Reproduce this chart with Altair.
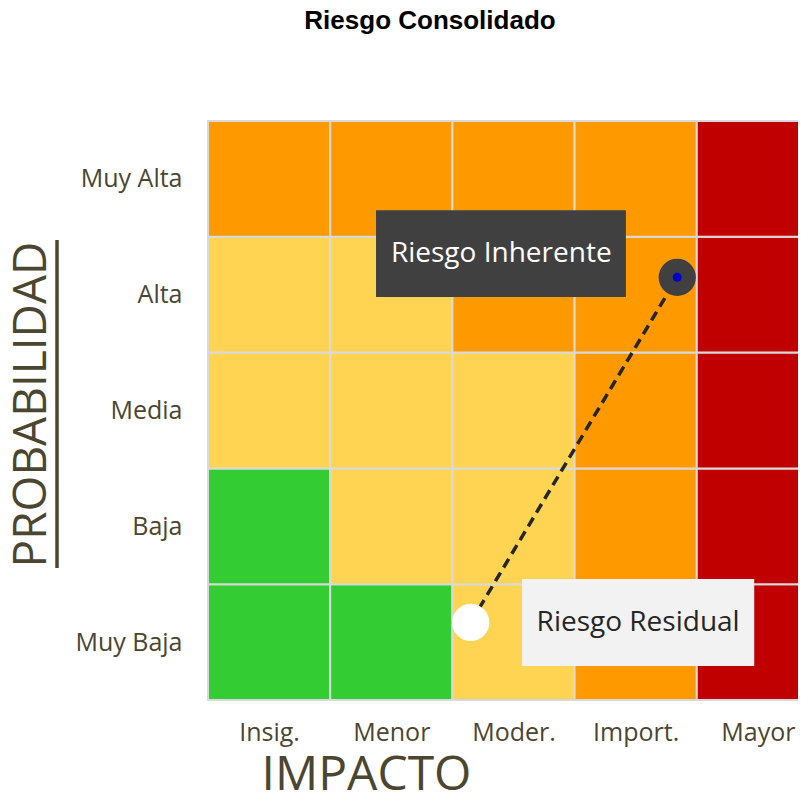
import altair as alt
import pandas as pd

# ---------------- data ----------------
impact_labels = ["Insig.", "Menor", "Moder.", "Import.", "Mayor"]
prob_labels = ["Muy Baja", "Baja", "Media", "Alta", "Muy Alta"]
# risk level of each cell; rows from "Muy Baja" (bottom) to "Muy Alta" (top)
risk_rows = [
    [1, 1, 2, 3, 4],
    [1, 2, 2, 3, 4],
    [2, 2, 2, 3, 4],
    [2, 2, 3, 3, 4],
    [3, 3, 3, 3, 4],
]
level_codes = [1, 2, 3, 4]
level_colors = ["#33CC33", "#FFD452", "#FF9900", "#C00000"]

point_names = ["Riesgo Inherente", "Riesgo Residual"]
point_impact = [3.84, 2.15]
point_prob = [3.65, 0.67]

# data-label boxes (in impact / probability units)
label_x = [2.40, 3.52]
label_y = [3.85, 0.665]
label_box_x = [1.375, 2.57]
label_box_x2 = [3.42, 4.47]
label_box_y = [3.48, 0.294]
label_box_y2 = [4.23, 1.045]
label_fill = ["#404040", "#F2F2F2"]
label_text_color = ["#FFFFFF", "#262626"]

TXT = "#4B4630"
FONT = "Open Sans"

cells = pd.DataFrame(
    [
        {"x": i, "x2": i + 1, "y": j, "y2": j + 1, "level": risk_rows[j][i]}
        for j in range(5)
        for i in range(5)
    ]
)
points = pd.DataFrame({"name": point_names, "x": point_impact, "y": point_prob})

xlab_expr = "[" + ",".join("'%s'" % s for s in impact_labels) + "][floor(datum.value)]"
ylab_expr = "[" + ",".join("'%s'" % s for s in prob_labels) + "][floor(datum.value)]"

x_scale = alt.Scale(domain=[0, 5], range=[0, 611], nice=False, zero=False)
y_scale = alt.Scale(domain=[0, 5], nice=False, zero=False)

x_axis = alt.Axis(
    values=[0.5, 1.5, 2.5, 3.5, 4.5], labelExpr=xlab_expr, title="IMPACTO",
    domain=False, ticks=False, tickSize=0, grid=False,
    labelFont=FONT, labelFontSize=25, labelColor=TXT, labelPadding=20,
    titleFont=FONT, titleFontSize=48, titleFontWeight="normal", titleColor=TXT,
    titleX=158, titleY=89, titleAlign="center", titleBaseline="alphabetic",
)
y_axis = alt.Axis(
    values=[0.5, 1.5, 2.5, 3.5, 4.5], labelExpr=ylab_expr, title="PROBABILIDAD",
    domain=False, ticks=False, tickSize=0, grid=False,
    labelFont=FONT, labelFontSize=25, labelColor=TXT, labelPadding=26,
    titleFont=FONT, titleFontSize=46, titleFontWeight="normal", titleColor=TXT,
    titleX=-163, titleY=283, titleAngle=270, titleAlign="center",
    titleBaseline="alphabetic",
)

X = alt.X("x:Q", scale=x_scale, axis=x_axis)
Y = alt.Y("y:Q", scale=y_scale, axis=y_axis)

heat = alt.Chart(cells).mark_rect(stroke="#D9D9D9", strokeWidth=2).encode(
    x=X, x2="x2:Q", y=Y, y2="y2:Q",
    color=alt.Color("level:O", scale=alt.Scale(domain=level_codes, range=level_colors), legend=None),
)

link = alt.Chart(points).mark_line(
    color="#262626", strokeWidth=3.5, strokeDash=[10, 6]
).encode(x=X, y=Y, order="x:Q")

inh = alt.Chart(points).transform_filter(alt.datum.name == point_names[0])
res = alt.Chart(points).transform_filter(alt.datum.name == point_names[1])

inh_dot = inh.mark_point(filled=True, shape="circle", size=1390, color="#404040", opacity=1).encode(x=X, y=Y)
inh_core = inh.mark_point(filled=True, shape="circle", size=80, color="#0000CC", opacity=1).encode(x=X, y=Y)
res_dot = res.mark_point(filled=True, shape="circle", size=1390, color="#FFFFFF", opacity=1).encode(x=X, y=Y)

layers = [heat, link, inh_dot, inh_core, res_dot]

for k in range(2):
    box = pd.DataFrame({"x": [label_box_x[k]], "x2": [label_box_x2[k]],
                        "y": [label_box_y[k]], "y2": [label_box_y2[k]]})
    lab = pd.DataFrame({"x": [label_x[k]], "y": [label_y[k]], "t": [point_names[k]]})
    layers.append(alt.Chart(box).mark_rect(color=label_fill[k]).encode(x=X, x2="x2:Q", y=Y, y2="y2:Q"))
    layers.append(
        alt.Chart(lab).mark_text(font=FONT, fontSize=28, color=label_text_color[k],
                                 align="center", baseline="middle").encode(x=X, y=Y, text="t:N")
    )

underline = alt.Chart(points).mark_rule(color=TXT, strokeWidth=3).encode(
    x=alt.value(-151), y=alt.value(119), y2=alt.value(447)
)
layers.append(underline)

chart = alt.layer(*layers).properties(
    width=590, height=579,
    title=alt.TitleParams(
        "Riesgo Consolidado", font="Liberation Sans", fontSize=26, fontWeight="bold",
        color="#000000", anchor="middle", frame="group", dx=-73,
        baseline="alphabetic", offset=65,
    ),
    autosize=alt.AutoSizeParams(type="none"),
    padding={"left": 200, "top": 113, "right": 0, "bottom": 93},
).configure_view(stroke=None)

chart.save("out.html", embed_options={"renderer": "svg", "actions": False})
